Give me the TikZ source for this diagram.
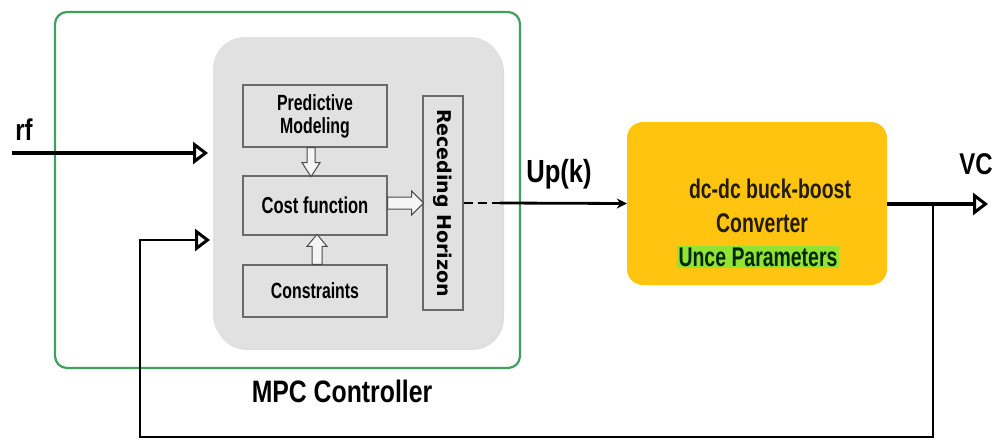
\documentclass[tikz,border=0pt]{standalone}
\usepackage{fontspec}
\setmainfont{Liberation Sans}
\newfontfamily\lbl[FakeStretch=0.8]{Liberation Sans}
\newfontfamily\lbltall[FakeStretch=0.72]{Liberation Sans}
\newfontfamily\lblwide{DejaVu Sans}
\usetikzlibrary{arrows.meta,calc,shadows}

\definecolor{ctrlgreen}{RGB}{62,160,92}
\definecolor{panelgray}{RGB}{225,225,225}
\definecolor{boxedge}{RGB}{105,105,105}
\definecolor{convyellow}{RGB}{255,196,16}
\definecolor{limegreen}{RGB}{145,228,52}
\definecolor{darkink}{RGB}{35,28,5}

\tikzset{
  ctrlbox/.style={draw=ctrlgreen, line width=2.2pt, rounded corners=12pt},
  panel/.style={fill=panelgray, rounded corners=32pt,
    drop shadow={shadow xshift=2pt, shadow yshift=-3pt, opacity=0.25, fill=gray}},
  innerbox/.style={draw=boxedge, line width=1.3pt, fill=panelgray, inner sep=0pt,
    align=center, font=\lbltall\bfseries},
  plantbox/.style={fill=convyellow, rounded corners=16pt},
  blockarrow/.style={draw=boxedge!70!black, fill=white!92!gray, line width=1pt, line join=miter},
  sig/.style={line width=3.5pt},
  fbline/.style={line width=2.5pt},
  opentip/.style={-{Triangle[open, length=15pt, width=22pt, line width=3pt]}},
  bigtxt/.style={font=\lbl\bfseries\fontsize{30}{33}\selectfont},
  convtxt/.style={font=\lbltall\bfseries\fontsize{27}{30}\selectfont, text=darkink},
}

\begin{document}
\begin{tikzpicture}[x=1pt, y=-1pt]
  \useasboundingbox (0,0) rectangle (995,439);

  % controller frame and the grey MPC panel
  \node[ctrlbox, minimum width=465, minimum height=356] (ctrl) at (287.5,190) {};
  \node[panel, minimum width=289, minimum height=310] (mpc) at (357.5,192) {};

  % inner blocks of the MPC
  \node[innerbox, minimum width=144, minimum height=62, font=\lbltall\bfseries\fontsize{22}{23}\selectfont] (pm) at (315,116) {Predictive\\Modeling};
  \node[innerbox, minimum width=144, minimum height=59, font=\lbltall\bfseries\fontsize{23}{26}\selectfont] (cf) at (315,205.5) {Cost function};
  \node[innerbox, minimum width=144, minimum height=52, font=\lbltall\bfseries\fontsize{22}{25}\selectfont] (cs) at (315,291) {Constraints};
  \node[innerbox, minimum width=40, minimum height=214] (rh) at (443,203) {};
  \node[rotate=-90, font=\lblwide\bfseries\fontsize{19}{21}\selectfont] (rhlabel) at (rh.center) {Receding Horizon};

  % hollow block arrows between the inner blocks
  \draw[blockarrow] ($(pm.south)+(-8,0)$) -- ++(8,0) -- ++(0,15) -- ++(5,0)
     -- ++(-9,14) -- ++(-9,-14) -- ++(5,0) -- cycle;
  \draw[blockarrow] ($(cs.north)+(-3,0)$) -- ++(10,0) -- ++(0,-18) -- ++(5,0)
     -- ++(-10,-12) -- ++(-10,12) -- ++(5,0) -- cycle;
  \draw[blockarrow] ($(cf.east)+(0,-8.5)$) -- ++(24,0) -- ++(0,-6) -- ++(12,12)
     -- ++(-12,12) -- ++(0,-6) -- ++(-24,0) -- cycle;

  % converter block
  \node[plantbox, minimum width=260, minimum height=163] (plant) at (757,203.5) {};
  \node[convtxt] (conv1) at (770,189) {dc-dc buck-boost};
  \node[convtxt] (conv2) at (762,223) {Converter};
  \node[convtxt, fill=limegreen, inner sep=1.5pt, text=black!85!green] (conv3) at (758,257) {Unce Parameters};

  % reference input
  \coordinate (rfstart) at (12,153);
  \coordinate (rfend) at (208,153);
  \draw[sig, opentip] (rfstart) -- (rfend);
  \node[bigtxt] (rflabel) at (24,130) {rf};

  % control signal
  \coordinate (dashend) at (500,203);
  \draw[line width=2.8pt, dash pattern=on 9pt off 5pt] (rh.east) -- (dashend);
  \draw[line width=2.8pt, -{Stealth[length=10pt, width=10pt]}] (dashend) -- (plant.west);
  \node[bigtxt, font=\lbl\bfseries\fontsize{32}{35}\selectfont] (uplabel) at (559,174) {Up(k)};

  % output and feedback loop
  \coordinate (vcend) at (988,204);
  \coordinate (tap) at (933,204);
  \coordinate (fbcorner) at (140,437);
  \coordinate (fbend) at (210,240);
  \draw[sig, opentip] (plant.east |- vcend) -- (vcend);
  \draw[fbline, opentip] (tap) |- (fbcorner) |- (fbend);
  \node[bigtxt] (vclabel) at (976,164) {VC};

  % controller caption
  \node[bigtxt, font=\lbl\bfseries\fontsize{31}{34}\selectfont] (mpclabel) at (342,391) {MPC Controller};
\end{tikzpicture}
\end{document}
